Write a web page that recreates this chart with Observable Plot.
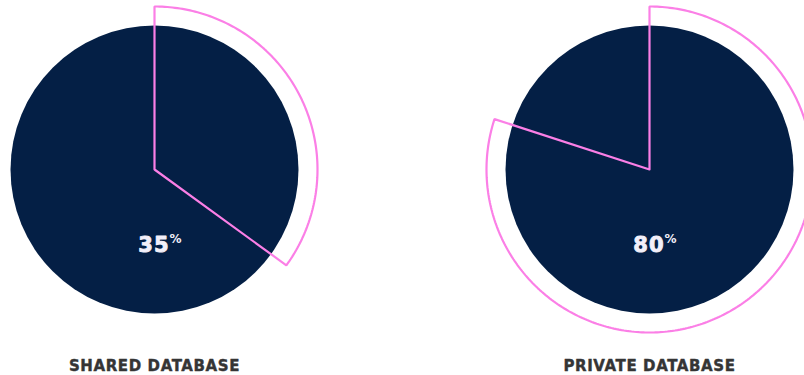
<!DOCTYPE html>
<html>
<head>
<meta charset="utf-8">
<script src="https://cdn.jsdelivr.net/npm/d3@7"></script>
<script src="https://cdn.jsdelivr.net/npm/@observablehq/plot@0.6"></script>
<style>
  html, body { margin: 0; padding: 0; background: #ffffff; }
</style>
</head>
<body>
<div id="chart"></div>
<script>
// ---- data ----
const categories = ["SHARED DATABASE", "PRIVATE DATABASE"];
const values = [35, 80];
const valueLabels = ["35", "80"];

// ---- layout config (pixels) ----
const W = 804, H = 375;
const cx0 = 154, cy = 169, unit = 495;   // first centre, distance between centres
const rInner = 144, rOuter = 163;

const data = categories.map((c, i) => ({i, category: c, value: values[i], label: valueLabels[i]}));

// wedge outline points (geometry derived from each value)
const R = rOuter / unit;
const wedge = [];
data.forEach(d => {
  const end = d.value / 100 * 2 * Math.PI;
  wedge.push({i: d.i, x: d.i, y: 0});
  const steps = Math.max(2, Math.round(d.value * 4));
  for (let k = 0; k <= steps; k++) {
    const a = end * k / steps;
    wedge.push({i: d.i, x: d.i + R * Math.sin(a), y: R * Math.cos(a)});
  }
  wedge.push({i: d.i, x: d.i, y: 0});
  wedge.push({i: d.i, x: d.i, y: R * 0.3});
});

const font = "'DejaVu Sans', sans-serif";
const chart = Plot.plot({
  width: W,
  height: H,
  margin: 0,
  style: {background: "#ffffff", overflow: "visible"},
  x: {domain: [-cx0 / unit, (W - cx0) / unit], axis: null},
  y: {domain: [-(H - cy) / unit, cy / unit], axis: null},
  marks: [
    Plot.dot(data, {x: "i", y: () => 0, r: rInner, fill: "#041f45", stroke: null}),
    Plot.line(wedge, {x: "x", y: "y", z: "i", stroke: "#fb7fe6", strokeWidth: 2.2,
      strokeLinejoin: "miter", curve: "linear"}),
    Plot.text(data, {x: "i", y: () => 0, text: "label", dx: 15, dy: 75.5, textAnchor: "end",
      fontSize: 21, fontWeight: 700, fill: "#f2eff9", stroke: "#f2eff9", strokeWidth: 0.9,
      fontFamily: font}),
    Plot.text(data, {x: "i", y: () => 0, text: () => "%", dx: 15, dy: 70, textAnchor: "start",
      fontSize: 12, fontWeight: 700, fill: "#f2eff9", fontFamily: font}),
    Plot.text(data, {x: "i", y: () => 0, text: "category", dy: 197, textAnchor: "middle",
      fontSize: 15, fontWeight: 700, fill: "#353535", stroke: "#353535", strokeWidth: 0.4,
      fontFamily: font})
  ]
});
// tracking: numbers (3rd-from-last text mark) and captions (last)
const textGroups = chart.querySelectorAll("g[aria-label='text']");
textGroups[textGroups.length - 3].setAttribute("letter-spacing", "1");
textGroups[textGroups.length - 1].setAttribute("letter-spacing", "0.6");
document.getElementById("chart").appendChild(chart);
</script>
</body>
</html>
